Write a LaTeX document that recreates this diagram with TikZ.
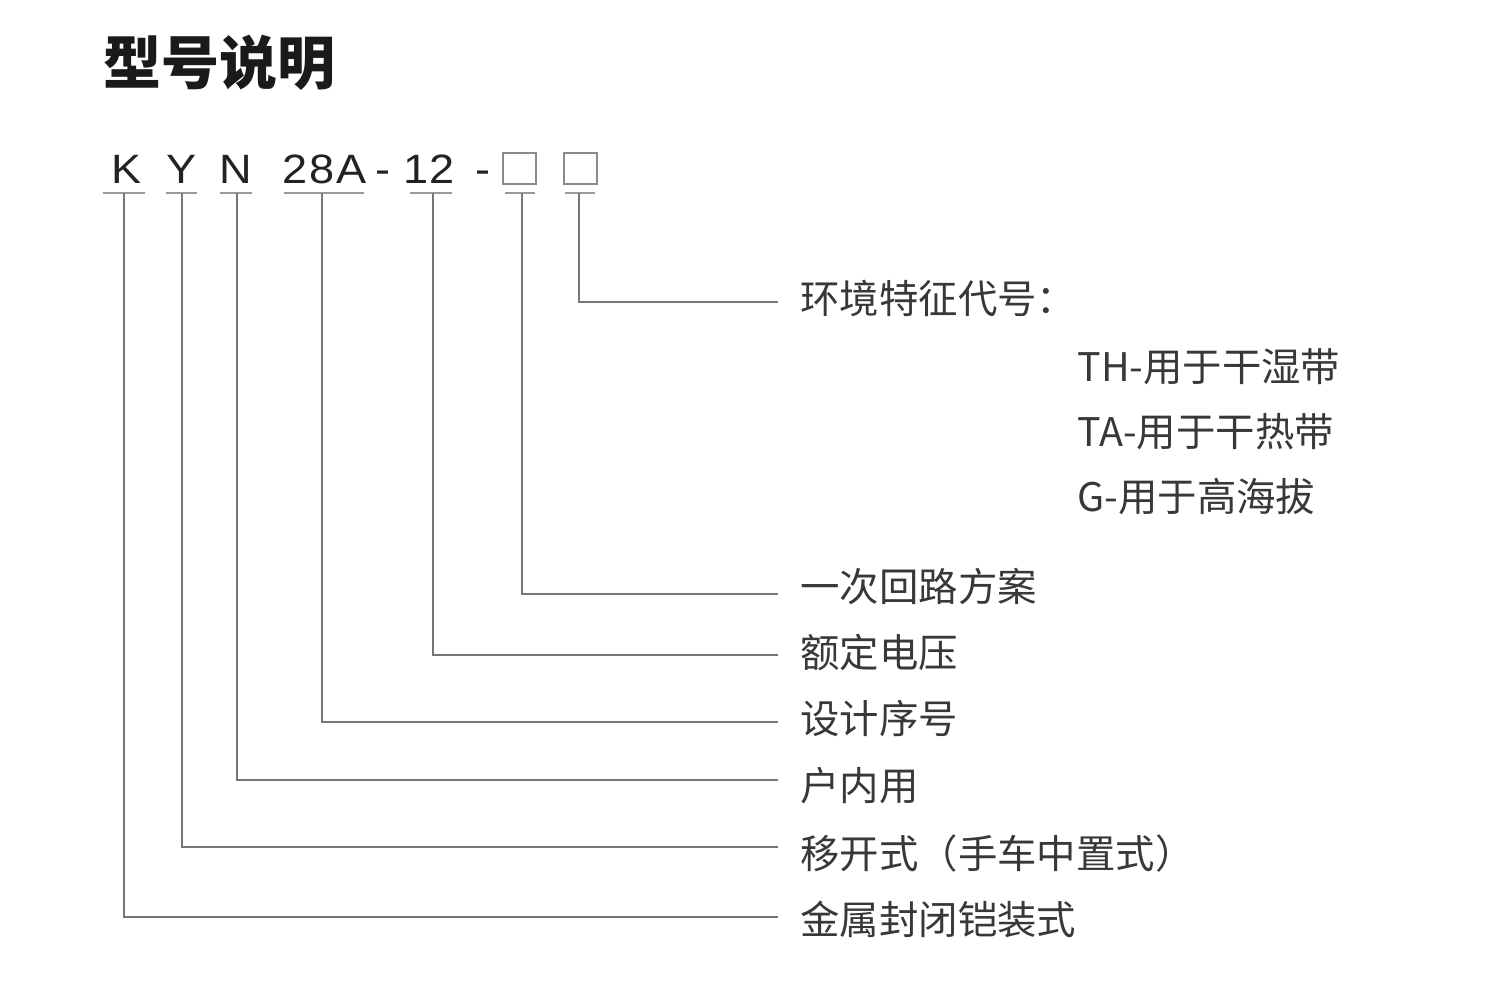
\documentclass[tikz,border=0pt]{standalone}
\usepackage{fontspec}
\setmainfont{Noto Sans CJK SC}
\newfontfamily\codefont{Liberation Sans}[FakeStretch=1.1,LetterSpace=4]
\definecolor{codecol}{HTML}{222222}
\definecolor{labcol}{HTML}{383838}
\definecolor{titlecol}{HTML}{1A1A1A}
\definecolor{lncol}{HTML}{767676}
\definecolor{ulcol}{HTML}{9A9A9A}
\definecolor{boxcol}{HTML}{8A8A8A}
\begin{document}
\begin{tikzpicture}[x=0.5pt,y=-0.5pt,
  code/.style={anchor=base,inner sep=0pt,text=codecol,font=\codefont\fontsize{20.5}{23}\selectfont},
  codebox/.style={draw=boxcol,line width=1pt,minimum width=16.5pt,minimum height=15.5pt,inner sep=0pt},
  uline/.style={draw=ulcol,line width=1.4pt},
  conn/.style={draw=lncol,line width=1.1pt},
  lab/.style={anchor=base west,inner sep=0pt,text=labcol,font=\fontsize{19.7}{24}\selectfont},
]
\useasboundingbox (0,0) rectangle (1501,991);
% title
\node[anchor=base west,inner sep=0pt,text=titlecol,font=\bfseries\fontsize{29}{34}\selectfont] (title) at (103,84) {型号说明};
% code row
\node[code] (cK) at (126.5,183) {K};
\node[code] (cY) at (181.5,183) {Y};
\node[code] (cN) at (236,183) {N};
\node[code] (c28) at (324.5,183) {28A};
\node[code] (d1) at (383,183) {-};
\node[code] (c12) at (429,183) {12};
\node[code] (d2) at (483.5,183) {-};
\node[codebox] (b1) at (519.5,168.5) {};
\node[codebox] (b2) at (580,168.5) {};
% underlines
\draw[uline] (103,193) -- (145,193);
\draw[uline] (166,193) -- (197,193);
\draw[uline] (220,193) -- (252,193);
\draw[uline] (284,193) -- (364,193);
\draw[uline] (410,193) -- (452,193);
\draw[uline] (505,193) -- (535,193);
\draw[uline] (565,193) -- (595,193);
\coordinate (uK) at (124,193);
\coordinate (uY) at (182,193);
\coordinate (uN) at (237,193);
\coordinate (u28) at (322,193);
\coordinate (u12) at (433,193);
\coordinate (ub1) at (522,193);
\coordinate (ub2) at (579,193);
% labels
\node[lab] (lEnv) at (800,313) {环境特征代号：};
\node[lab] (lTH) at (1077,381) {TH-用于干湿带};
\node[lab] (lTA) at (1077,446) {TA-用于干热带};
\node[lab] (lG) at (1077,511) {G-用于高海拔};
\node[lab] (l1) at (800,601) {一次回路方案};
\node[lab] (l2) at (800,667) {额定电压};
\node[lab] (l3) at (800,733) {设计序号};
\node[lab] (l4) at (800,800) {户内用};
\node[lab] (l5) at (800,868) {移开式（手车中置式）};
\node[lab] (l6) at (800,934) {金属封闭铠装式};
% connector ends
\coordinate (eEnv) at (778,302);
\coordinate (e1) at (778,594);
\coordinate (e2) at (778,655);
\coordinate (e3) at (778,722);
\coordinate (e4) at (778,780);
\coordinate (e5) at (778,847);
\coordinate (e6) at (778,917);
% connectors
\draw[conn] (ub2) |- (eEnv);
\draw[conn] (ub1) |- (e1);
\draw[conn] (u12) |- (e2);
\draw[conn] (u28) |- (e3);
\draw[conn] (uN) |- (e4);
\draw[conn] (uY) |- (e5);
\draw[conn] (uK) |- (e6);
\end{tikzpicture}
\end{document}
